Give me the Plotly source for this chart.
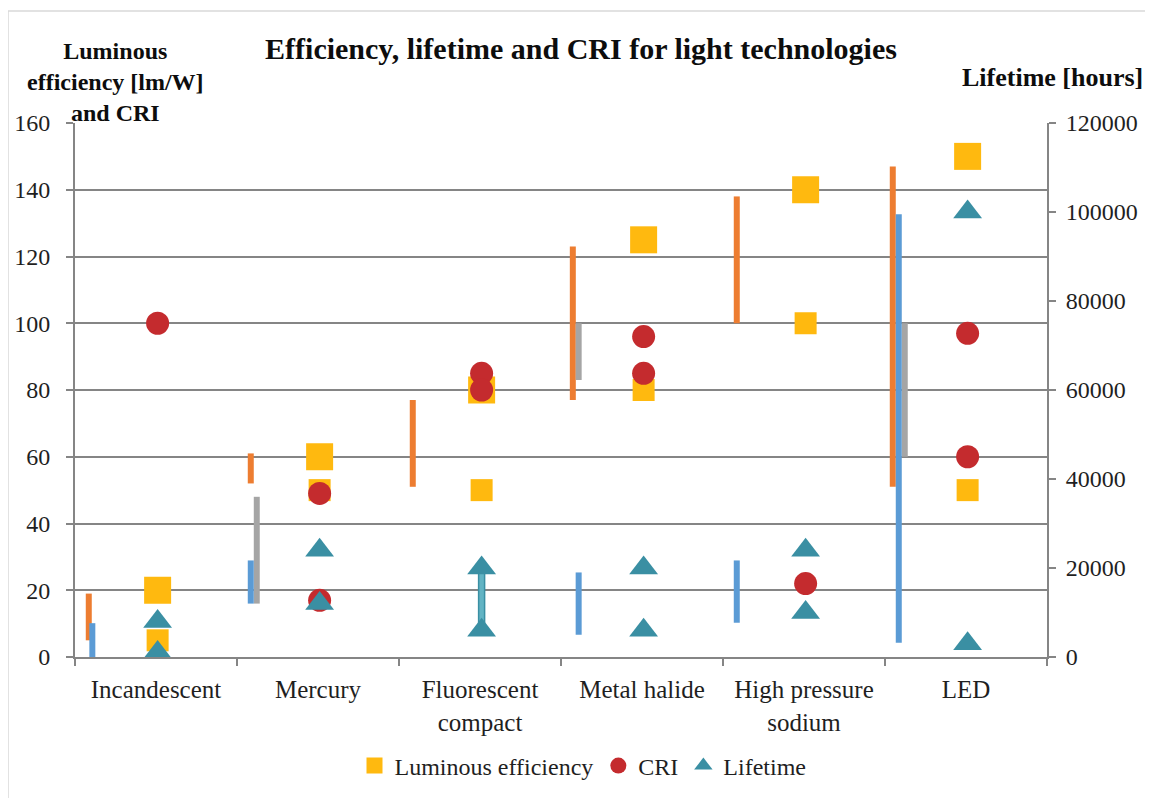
import plotly.graph_objects as go

# ---------------- data ----------------
categories = ["Incandescent", "Mercury", "Fluorescent<br>compact", "Metal halide",
              "High pressure<br>sodium", "LED"]

# luminous efficiency points [lm/W]
eff_high = [20, 60, 80, 125, 140, 150]
eff_low = [5, 50, 50, 80, 100, 50]
# CRI points
cri_a = [100, 49, 85, 96, 22, 97]
cri_b = [None, 17, 80, 85, None, 60]
# lifetime points [hours]
life_high = [8000, 24000, 20000, 20000, 24000, 100000]
life_low = [1000, 12000, 6000, 6000, 10000, 3000]

# range bars (left axis, lm/W)
eff_range_low = [5, 52, 51, 77, 100, 51]
eff_range_high = [19, 61, 77, 123, 138, 147]
# range bars (left axis, CRI)
cri_range_low = [None, 16, None, 83, None, 60]
cri_range_high = [None, 48, None, 100, None, 100]
# range bars (right axis, hours)
life_range_low = [0, 12000, None, 5000, 7700, 3200]
life_range_high = [7600, 21700, None, 19000, 21700, 99500]
# fluorescent compact lifetime span line
life_span_low = [None, None, 6300, None, None, None]
life_span_high = [None, None, 19200, None, None, None]

y_left_ticks = [0, 20, 40, 60, 80, 100, 120, 140, 160]
y_right_ticks = [0, 20000, 40000, 60000, 80000, 100000, 120000]

# ---------------- style ----------------
FONT = "Liberation Serif"
TXT = "#1f1f1f"
GRID = "#858585"
W, H = 1145, 790            # page has an 8px body margin
L, T, PW, PH = 67, 115, 972, 534
orange_off = [-0.415, -0.415, -0.415, -0.427, -0.415, -0.452]
blue_off = [-0.393, -0.415, 0, -0.391, -0.415, -0.415]
gray_off = [0, -0.378, 0, -0.391, 0, -0.378]
BW = 0.037

idx = list(range(len(categories)))


def rng(lo, hi):
    return [None if (a is None or b is None) else b - a for a, b in zip(lo, hi)]


def px(xs):   # screen x -> paper
    return (xs - 8 - L) / PW


def py(ys):   # screen y -> paper
    return 1 + (T - (ys - 8)) / PH


fig = go.Figure()

fig.add_trace(go.Bar(x=[i + o for i, o in zip(idx, orange_off)], y=rng(eff_range_low, eff_range_high),
                     base=eff_range_low, width=BW, marker=dict(color="#ED7D31", line_width=0),
                     showlegend=False, hoverinfo="skip"))
fig.add_trace(go.Bar(x=[i + o for i, o in zip(idx, gray_off)], y=rng(cri_range_low, cri_range_high),
                     base=cri_range_low, width=BW, marker=dict(color="#A5A5A5", line_width=0),
                     showlegend=False, hoverinfo="skip"))
fig.add_trace(go.Bar(x=[i + o for i, o in zip(idx, blue_off)], y=rng(life_range_low, life_range_high),
                     base=life_range_low, width=BW, marker=dict(color="#5B9BD5", line_width=0),
                     showlegend=False, hoverinfo="skip", yaxis="y2"))
fig.add_trace(go.Bar(x=[i + 0.01 for i in idx], y=rng(life_span_low, life_span_high),
                     base=life_span_low, width=BW,
                     marker=dict(color="#62B4C4", line=dict(color="#3A8FA3", width=1.5)),
                     showlegend=False, hoverinfo="skip", yaxis="y2"))

# markers
fig.add_trace(go.Scatter(x=[i + 0.01 for i in idx], y=eff_low, mode="markers", name="Luminous efficiency",
                         marker=dict(symbol="square", size=22, color="#FFB90F"), showlegend=False))
fig.add_trace(go.Scatter(x=[i + 0.01 for i in idx], y=eff_high, mode="markers", name="Luminous efficiency",
                         marker=dict(symbol="square", size=27, color="#FFB90F")))
fig.add_trace(go.Scatter(x=[i + 0.01 for i in idx] * 2, y=cri_a + cri_b, mode="markers", name="CRI",
                         marker=dict(symbol="circle", size=23, color="#C42B2E")))
fig.add_trace(go.Scatter(x=[i + 0.01 for i in idx] * 2, y=life_high + life_low, mode="markers",
                         name="Lifetime", yaxis="y2",
                         marker=dict(symbol="triangle-up", size=25, color="#3A8FA3")))

title_font = dict(family=FONT, size=26, color="#0d0d0d")

fig.update_layout(
    width=W, height=H,
    paper_bgcolor="white", plot_bgcolor="white",
    margin=dict(l=L, r=W - L - PW, t=T, b=H - T - PH, autoexpand=False),
    barmode="overlay",
    font=dict(family=FONT, color=TXT, size=24),
    title=dict(text="<b>Efficiency, lifetime and CRI for light technologies</b>",
               xref="container", x=(581 - 8) / W, xanchor="center",
               yref="container", y=1 - (48 - 8) / H, yanchor="middle",
               font=dict(family=FONT, size=30, color="#0d0d0d")),
    xaxis=dict(range=[-0.5, 5.5], tickmode="array", tickvals=idx, ticktext=categories,
               ticks="", showgrid=False, zeroline=False, automargin=False,
               showline=True, linecolor=GRID, linewidth=2,
               tickfont=dict(size=25, color=TXT), ticklabelstandoff=9,
               minor=dict(tickmode="array", tickvals=[i - 0.5 for i in range(len(categories) + 1)],
                          ticks="outside", ticklen=7, tickwidth=2, tickcolor=GRID, showgrid=False)),
    yaxis=dict(range=[0, 160], tickmode="array", tickvals=y_left_ticks, automargin=False,
               showgrid=True, gridcolor=GRID, gridwidth=2,
               zeroline=False, showline=True, linecolor=GRID, linewidth=2,
               ticks="outside", ticklen=7, tickwidth=2, tickcolor=GRID,
               tickfont=dict(size=24, color=TXT), ticklabelstandoff=11),
    yaxis2=dict(range=[0, 120000], tickmode="array", tickvals=y_right_ticks, tickformat="d",
                overlaying="y", side="right", automargin=False,
                showgrid=False, zeroline=False, showline=True, linecolor=GRID, linewidth=2,
                ticks="outside", ticklen=7, tickwidth=2, tickcolor=GRID,
                tickfont=dict(size=24, color=TXT), ticklabelstandoff=5),
    legend=dict(orientation="h", x=(583 - 8) / W, xanchor="center", xref="container",
                y=1 - (766 - 8) / H, yanchor="middle", yref="container",
                font=dict(size=24, color=TXT), itemwidth=30,
                traceorder="normal", bgcolor="rgba(0,0,0,0)"),
    annotations=[
        dict(text="<b>Luminous<br>efficiency [lm/W]<br>and CRI</b>", xref="paper", yref="paper",
             x=px(115), y=py(82), xanchor="center", yanchor="middle", align="center",
             showarrow=False, font=dict(family=FONT, size=24, color="#0d0d0d")),
        dict(text="<b>Lifetime [hours]</b>", xref="paper", yref="paper", x=px(1052), y=py(77),
             xanchor="center", yanchor="middle", showarrow=False, font=title_font),
    ],
    shapes=[dict(type="rect", xref="paper", yref="paper",
                 x0=px(8), x1=px(1151), y0=py(805), y1=py(11),
                 line=dict(color="#d9d9d9", width=1.5), fillcolor="rgba(0,0,0,0)", layer="below")],
)

fig.write_html("out.html")
